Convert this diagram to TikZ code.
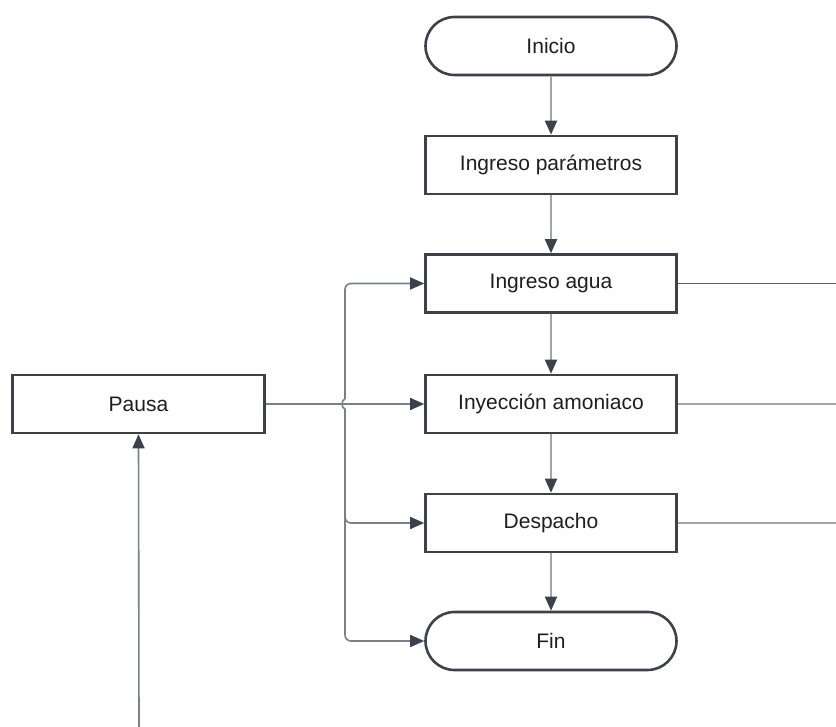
\documentclass[tikz,border=0pt]{standalone}
\usepackage{fontspec}
\setmainfont{Liberation Sans}
\usetikzlibrary{arrows.meta}
\definecolor{edge}{HTML}{3B424C}
\definecolor{wire}{HTML}{7A8088}
\definecolor{wirelight}{HTML}{A2A6AB}
\definecolor{ink}{HTML}{1E1E1E}
\begin{document}
\begin{tikzpicture}[x=1pt,y=-1pt,
  box/.style={draw=edge,line width=2.6pt,fill=white,minimum width=251pt,
    minimum height=58pt,inner sep=0pt,text=ink,
    font=\fontsize{21}{24}\selectfont},
  term/.style={box,rounded corners=29pt},
  conn/.style={draw=wire,line width=1.6pt},
  soft/.style={draw=wirelight,line width=1.8pt},
  arr/.style={-{Triangle[length=14pt,width=12pt,color=edge]}}
]
\useasboundingbox[fill=white] (0,0) rectangle (836,727);

% process column
\node[term] (inicio) at (551,46)  {Inicio};
\node[box]  (param)  at (551,165) {Ingreso parámetros};
\node[box]  (agua)   at (551,283.5) {Ingreso agua};
\node[box]  (iny)    at (551,404) {Inyección amoniaco};
\node[box]  (desp)   at (551,523) {Despacho};
\node[term] (fin)    at (551,641) {Fin};

% pause block on the left
\node[box,minimum width=252pt] (pausa) at (138.5,404) {Pausa};

% helper points
\coordinate (j)  at (345,404);
\coordinate (ja) at (345,399);
\coordinate (jb) at (345,409);
\coordinate (pin) at (139,727);
\coordinate (ra) at (836,283.5);
\coordinate (ri) at (836,404);
\coordinate (rd) at (836,523);

% main flow
\draw[soft,arr] (inicio) -- (param);
\draw[soft,arr] (param)  -- (agua);
\draw[soft,arr] (agua)   -- (iny);
\draw[soft,arr] (iny)    -- (desp);
\draw[soft,arr] (desp)   -- (fin);

% branches from the pause block
\draw[conn,arr] (pausa.east) -- (iny.west);
\draw[conn,arr,rounded corners=6pt] (ja) |- (agua.west);
\draw[conn] (ja) .. controls (341,400) and (341,408) .. (jb);
\draw[conn,arr,rounded corners=6pt] (jb) |- (desp.west);
\draw[conn,arr,rounded corners=6pt] (jb) |- (fin.west);

% return into the pause block
\draw[conn,arr] (pin) -- (pausa.south);

% outgoing lines on the right
\draw[conn,draw=edge!85,line width=1.4pt] (agua.east) -- (ra);
\draw[soft] (iny.east)  -- (ri);
\draw[soft] (desp.east) -- (rd);
\end{tikzpicture}
\end{document}
